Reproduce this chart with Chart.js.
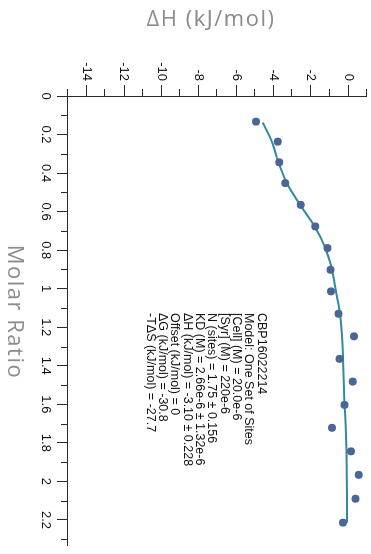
<!DOCTYPE html>
<html>
<head>
<meta charset="utf-8">
<script src="https://cdn.jsdelivr.net/npm/chart.js@4/dist/chart.umd.min.js"></script>
<style>
  html, body { margin: 0; padding: 0; background: #fff; overflow: hidden; }
  body { width: 371px; height: 554px; position: relative; }
  /* The plot is laid out landscape and turned a quarter turn clockwise */
  #wrap {
    position: absolute; left: 0; top: 0;
    width: 554px; height: 371px;
    transform-origin: 0 0;
    transform: translateX(371px) rotate(90deg);
  }
</style>
</head>
<body>
<div id="wrap"><canvas id="c" width="554" height="371"></canvas></div>
<script>
// Integrated injection heats
const injRatio = [0.133, 0.237, 0.344, 0.452, 0.565, 0.677, 0.789, 0.902, 1.014, 1.130,
                  1.247, 1.364, 1.482, 1.603, 1.722, 1.844, 1.966, 2.090, 2.214];
const injHeat  = [-4.94, -3.77, -3.70, -3.38, -2.54, -1.77, -1.11, -0.95, -0.93, -0.52,
                   0.30, -0.47,  0.24, -0.21, -0.87,  0.14,  0.56,  0.38, -0.28];

// One-set-of-sites fit curve
const fitRatio = [0.138, 0.237, 0.344, 0.452, 0.565, 0.677, 0.789, 0.902, 1.014, 1.130,
                  1.247, 1.364, 1.482, 1.603, 1.722, 1.844, 1.966, 2.090, 2.214];
const fitHeat  = [-4.58, -4.09, -3.74, -3.29, -2.58, -1.80, -1.23, -0.87, -0.66, -0.45,
                  -0.34, -0.28, -0.24, -0.20, -0.14, -0.10, -0.08, -0.07, -0.07];

// Axis ticks
const ratioTicks = [0, 0.2, 0.4, 0.6, 0.8, 1, 1.2, 1.4, 1.6, 1.8, 2, 2.2];
const ratioMinor = [0.1, 0.3, 0.5, 0.7, 0.9, 1.1, 1.3, 1.5, 1.7, 1.9, 2.1, 2.3];
const heatTicks  = [-14, -12, -10, -8, -6, -4, -2, 0];
const heatMinor  = [-15, -13, -11, -9, -7, -5, -3, -1, 1];

// Fit summary
const fitInfo = [
  'CBP16022214',
  'Model: One Set of Sites',
  '[Cell] (M) = 20.0e-6',
  '[Syr] (M) = 220e-6',
  'N (sites) = 1.75 \u00b1 0.156',
  'KD (M) = 2.66e-6 \u00b1 1.32e-6',
  '\u0394H (kJ/mol) = -3.10 \u00b1 0.228',
  'Offset (kJ/mol) = 0',
  '\u0394G (kJ/mol) = -30.8',
  '-T\u0394S (kJ/mol) = -27.7'
];

const xTitle = 'Molar Ratio';
const yTitle = '\u0394H (kJ/mol)';

const AXIS = '#2b2b2b';
const TITLE_GRAY = '#8c8c8c';

const toXY = (xs, ys) => xs.map((x, i) => ({ x: x, y: ys[i] }));

// Minor tick marks, axis titles and the fit summary
const extras = {
  id: 'extras',
  afterDraw(chart) {
    const { ctx, chartArea, scales } = chart;
    const xs = scales.x, ys = scales.y;
    ctx.save();
    ctx.strokeStyle = AXIS;
    ctx.lineWidth = 1;
    ctx.beginPath();
    ratioMinor.forEach(v => {
      const px = Math.round(xs.getPixelForValue(v)) + 0.5;
      ctx.moveTo(px, chartArea.bottom);
      ctx.lineTo(px, chartArea.bottom + 7);
    });
    heatMinor.forEach(v => {
      const py = Math.round(ys.getPixelForValue(v)) + 0.5;
      ctx.moveTo(chartArea.left, py);
      ctx.lineTo(chartArea.left - 7, py);
    });
    ctx.stroke();

    // axis titles
    ctx.fillStyle = TITLE_GRAY;
    ctx.font = '22px "Open Sans"';
    ctx.letterSpacing = '1.5px';
    ctx.textAlign = 'center';
    ctx.textBaseline = 'alphabetic';
    ctx.fillText(xTitle, chartArea.left + 216, 363);
    ctx.save();
    ctx.translate(26, 160);
    ctx.rotate(-Math.PI / 2);
    ctx.fillText(yTitle, 0, 0);
    ctx.restore();

    // fit summary
    ctx.letterSpacing = '0px';
    ctx.fillStyle = '#111';
    ctx.font = '12.5px "Liberation Sans", Arial, sans-serif';
    ctx.textAlign = 'left';
    ctx.textBaseline = 'middle';
    fitInfo.forEach((t, i) => ctx.fillText(t, 313, 110 + i * 12.3));
    ctx.restore();
  }
};

const tickFont = { family: '"Liberation Sans", Arial, sans-serif', size: 13 };

new Chart(document.getElementById('c'), {
  type: 'scatter',
  data: {
    datasets: [
      {
        label: 'Injections',
        data: toXY(injRatio, injHeat),
        pointRadius: 4,
        pointBackgroundColor: '#4a6598',
        pointBorderWidth: 0,
        showLine: false,
        order: 0
      },
      {
        label: 'Fit',
        data: toXY(fitRatio, fitHeat),
        showLine: true,
        pointRadius: 0,
        borderColor: '#348a9c',
        borderWidth: 2,
        cubicInterpolationMode: 'monotone',
        fill: false,
        order: 1
      }
    ]
  },
  options: {
    responsive: false,
    devicePixelRatio: 1,
    animation: false,
    layout: { padding: { top: 4, right: 9, bottom: 0, left: 0 } },
    plugins: { legend: { display: false }, tooltip: { enabled: false } },
    scales: {
      x: {
        type: 'linear',
        position: 'bottom',
        min: 0,
        max: 2.33,
        afterFit: s => { s.height = 68; s.paddingLeft = 0; s.paddingRight = 0; },
        afterBuildTicks: s => { s.ticks = ratioTicks.map(v => ({ value: v })); },
        grid: { display: true, drawOnChartArea: false, drawTicks: true, tickLength: 11, tickColor: AXIS, tickWidth: 1 },
        border: { display: true, color: AXIS, width: 1 },
        ticks: { color: '#111', font: tickFont, padding: 4, maxRotation: 0, autoSkip: false, callback: v => String(v) }
      },
      y: {
        type: 'linear',
        position: 'left',
        min: -15,
        max: 1,
        afterFit: s => { s.width = 96; s.paddingTop = 0; s.paddingBottom = 0; },
        afterBuildTicks: s => { s.ticks = heatTicks.map(v => ({ value: v })); },
        grid: { display: true, drawOnChartArea: false, drawTicks: true, tickLength: 11, tickColor: AXIS, tickWidth: 1 },
        border: { display: true, color: AXIS, width: 1 },
        ticks: { color: '#111', font: tickFont, padding: 4, autoSkip: false, callback: v => String(v) }
      }
    }
  },
  plugins: [extras]
});
</script>
</body>
</html>
